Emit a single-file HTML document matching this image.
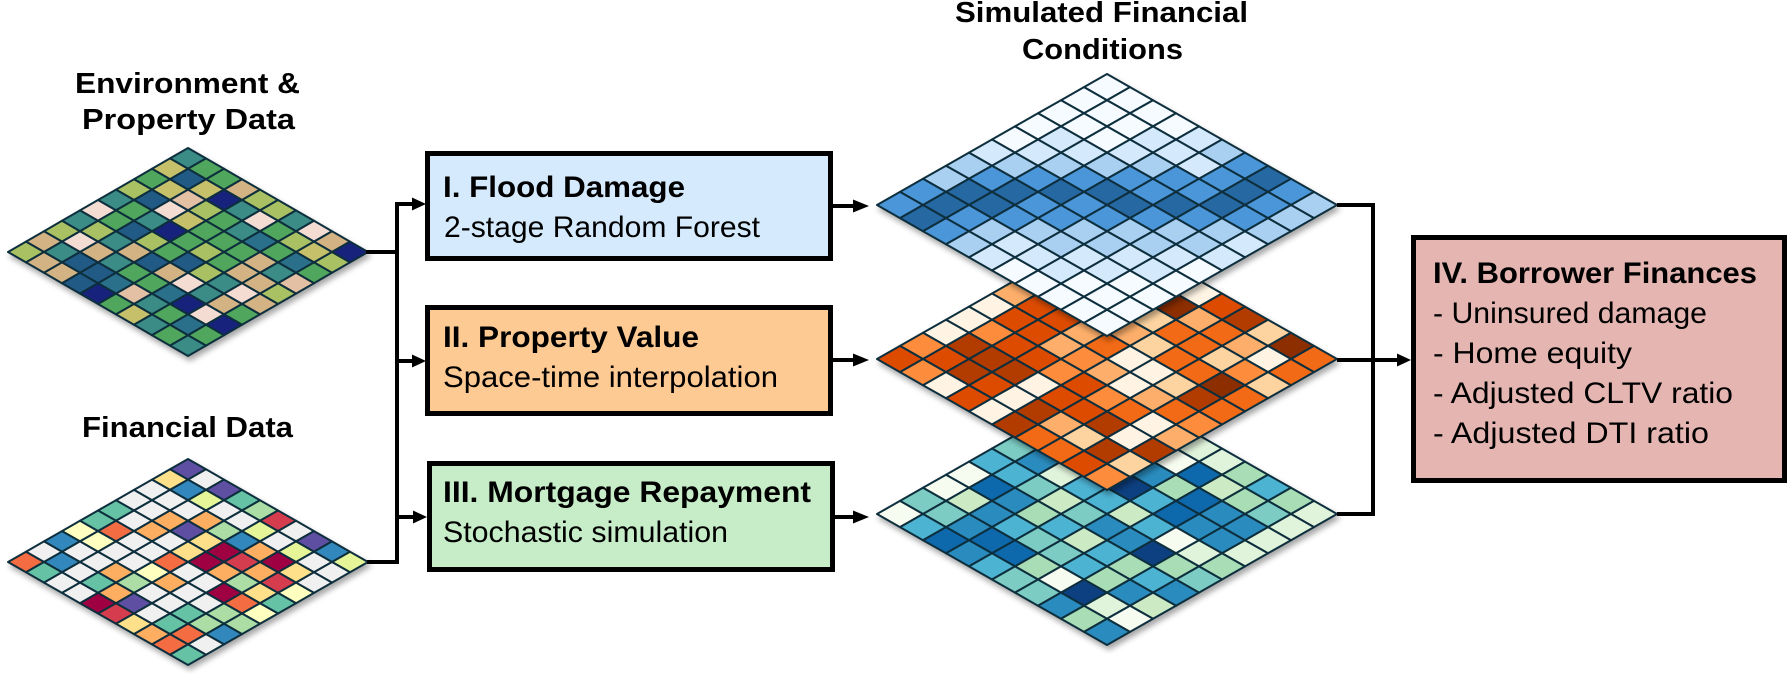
<!DOCTYPE html>
<html>
<head>
<meta charset="utf-8">
<style>
  html,body{margin:0;padding:0;background:#fff;overflow:hidden;}
  svg{display:block;}
  text{font-family:"Liberation Sans",Arial,sans-serif;fill:#000;}
  .b{font-weight:bold;}
</style>
</head>
<body>
<svg id="s" xmlns="http://www.w3.org/2000/svg" width="1787" height="674" viewBox="0 0 1787 674">
  <defs>
    <filter id="sh" x="-10%" y="-10%" width="120%" height="130%">
      <feDropShadow dx="2" dy="4" stdDeviation="3" flood-color="#000" flood-opacity="0.35"/>
    </filter>
  </defs>

  <!-- titles -->
  <text class="b" x="75" y="93" font-size="29" textLength="225" lengthAdjust="spacingAndGlyphs">Environment &amp;</text>
  <text class="b" x="82" y="129" font-size="29" textLength="213" lengthAdjust="spacingAndGlyphs">Property Data</text>
  <text class="b" x="82" y="437" font-size="29" textLength="211" lengthAdjust="spacingAndGlyphs">Financial Data</text>
  <text class="b" x="955" y="22" font-size="29" textLength="293" lengthAdjust="spacingAndGlyphs">Simulated Financial</text>
  <text class="b" x="1022" y="59" font-size="29" textLength="161" lengthAdjust="spacingAndGlyphs">Conditions</text>

  <!-- grids drawn here by script -->
  <g id="grids"></g>

  <!-- connectors -->
  <g stroke="#000" stroke-width="4" fill="none">
    <path d="M366 252 H399"/>
    <path d="M397 202 V564"/>
    <path d="M367 562 H399"/>
    <path d="M397 204 H414"/>
    <path d="M397 361 H414"/>
    <path d="M397 517 H414"/>
    <path d="M831 206 H855"/>
    <path d="M831 360 H855"/>
    <path d="M833 517 H855"/>
    <path d="M1337 205 H1375"/>
    <path d="M1373 203 V516"/>
    <path d="M1337 514 H1375"/>
    <path d="M1337 360 H1399"/>
  </g>
  <g fill="#000">
    <polygon points="412,197.5 426,204 412,210.5"/>
    <polygon points="412,354.5 426,361 412,367.5"/>
    <polygon points="413,510.5 427,517 413,523.5"/>
    <polygon points="853,199.5 869,206 853,212.5"/>
    <polygon points="853,353.5 869,360 853,366.5"/>
    <polygon points="853,510.5 869,517 853,523.5"/>
    <polygon points="1397,353.5 1411,360 1397,366.5"/>
  </g>

  <!-- boxes -->
  <rect x="427.5" y="153.5" width="403" height="105" fill="#d5eafc" stroke="#000" stroke-width="5"/>
  <rect x="427.5" y="307.5" width="403" height="106" fill="#fdca94" stroke="#000" stroke-width="5"/>
  <rect x="429.5" y="463.5" width="403" height="106" fill="#c6edc8" stroke="#000" stroke-width="5"/>
  <rect x="1413.5" y="237.5" width="371" height="243" fill="#e5b6b1" stroke="#000" stroke-width="5"/>

  <text class="b" x="443" y="197" font-size="30" textLength="242" lengthAdjust="spacingAndGlyphs">I. Flood Damage</text>
  <text x="444" y="237" font-size="30" textLength="316" lengthAdjust="spacingAndGlyphs">2-stage Random Forest</text>
  <text class="b" x="443" y="347" font-size="30" textLength="256" lengthAdjust="spacingAndGlyphs">II. Property Value</text>
  <text x="443" y="387" font-size="30" textLength="335" lengthAdjust="spacingAndGlyphs">Space-time interpolation</text>
  <text class="b" x="443" y="502" font-size="30" textLength="368" lengthAdjust="spacingAndGlyphs">III. Mortgage Repayment</text>
  <text x="443" y="542" font-size="30" textLength="285" lengthAdjust="spacingAndGlyphs">Stochastic simulation</text>

  <text class="b" x="1433" y="283" font-size="30" textLength="324" lengthAdjust="spacingAndGlyphs">IV. Borrower Finances</text>
  <text x="1433" y="323" font-size="30" textLength="274" lengthAdjust="spacingAndGlyphs">- Uninsured damage</text>
  <text x="1433" y="363" font-size="30" textLength="199" lengthAdjust="spacingAndGlyphs">- Home equity</text>
  <text x="1433" y="403" font-size="30" textLength="300" lengthAdjust="spacingAndGlyphs">- Adjusted CLTV ratio</text>
  <text x="1433" y="443" font-size="30" textLength="276" lengthAdjust="spacingAndGlyphs">- Adjusted DTI ratio</text>
</svg>

<script>
(function(){
  var NS="http://www.w3.org/2000/svg";
  var G=document.getElementById("grids");
  function grid(cx,cy,hw,hh,rows,pal){
    var g=document.createElementNS(NS,"g");
    g.setAttribute("filter","url(#sh)");
    g.setAttribute("stroke","#0f2f3d");
    g.setAttribute("stroke-width","2");
    g.setAttribute("stroke-linejoin","round");
    function P(r,c){return (cx+(c-r)*hw/10).toFixed(2)+","+(cy-hh+(r+c)*hh/10).toFixed(2);}
    for(var s=0;s<19;s++){
      var codes=rows[s].split(" ");
      for(var k=0;k<codes.length;k++){
        var c=(s<=9)?k:(s-9+k), r=s-c;
        var p=document.createElementNS(NS,"polygon");
        p.setAttribute("points",P(r,c)+" "+P(r,c+1)+" "+P(r+1,c+1)+" "+P(r+1,c));
        p.setAttribute("fill",pal[codes[k]]||"#ccc");
        g.appendChild(p);
      }
    }
    G.appendChild(g);
  }
  var envPal={T:"#3a8c86",Y:"#a9c163",O:"#c6c06b",G:"#4fa65b",B:"#215a86",N:"#15247c",K:"#d3b283",P:"#f4dcd3",Q:"#e3bfa3",L:"#2b6f8a"};
  var env=["T","O G","G B G","Y O O K","T B Q N Y","P G P Y T Y","T G T O G P T","Y Y B N G T G P","K P T Y G G L Y K","Y T K K G Y G G O N","K B T B B G K L Y","K B G K Y K T G","B L G P T K Q","N Q L T P Y","G T N K K","O G P G","T L N","G G","T"];
  var finPal={W:"#f0f0f0",U:"#5e4fa2",S:"#3288bd",A:"#66c2a5",L:"#abdda4",Z:"#e6f598",Y:"#fee08b",P:"#ffffbf",O:"#fdae61",R:"#f46d43",D:"#d53e4f",M:"#9e0142"};
  var fin=["U","Y W","W S U","W W Z A","A W W W L","A W O O W D","P R O U L Z W","S P W W Y S W U","W W W W Y M O Z S","R S W W R M D M W Z","A W O P W O O Y W","W A L O W L D W","W O W W M Y P","M U W W R A","D W A L P","Y A L L","O R S","R W","A"];
  var bluePal={"0":"#f5fbff","1":"#d4e9fb","2":"#a9cff1","3":"#4b96d9","4":"#2867a2"};
  var blue=["0","0 0","0 0 0","0 0 0 0","0 1 0 1 1","1 1 1 1 1 2","2 2 2 2 2 1 3","2 3 3 3 3 3 3 4","3 4 4 4 4 3 3 4 3","3 4 4 3 3 4 4 4 3 2","4 3 3 3 3 3 3 3 2","3 2 2 2 2 2 2 2","2 1 2 2 2 2 1","1 1 1 1 1 1","0 1 1 1 0","0 0 0 0","0 0 0","0 0","0"];
  var orPal={"0":"#fff4e4","1":"#fdd3a0","2":"#fdae6b","3":"#fd8d3c","4":"#f26a14","5":"#dc4c03","6":"#b23b04","7":"#8c2d04"};
  var orng=["1","2 3","3 4 2","2 4 5 0","2 5 4 3 0","0 5 4 3 7 5","0 5 5 4 1 2 6","0 3 5 2 2 4 4 1","3 6 5 2 4 1 4 2 7","5 5 6 5 3 0 4 1 0 4","3 6 6 3 2 0 4 3 4","0 5 0 5 0 1 7 1","5 0 5 3 2 6 4","0 6 5 4 4 4","6 2 6 0 3","4 1 0 2","4 6 6","5 1","3"];
  var tPal={"0":"#f7fcf0","1":"#e0f3db","2":"#ccebc5","3":"#a8ddb5","4":"#7bccc4","5":"#4eb3d3","6":"#2b8cbe","7":"#0868ac","8":"#084081"};
  var teal=["3","4 5","5 6 3","4 5 6 2","4 5 6 5 1","5 6 5 4 0 1","0 5 1 4 6 7 3","0 7 4 5 8 3 2 5","4 2 6 2 5 5 7 3 3","0 4 6 3 4 2 7 6 4 1","5 6 5 5 6 5 6 6 1","7 7 4 2 6 0 6 1","6 7 4 5 8 1 1","5 3 5 3 3 3","4 0 3 5 4","4 8 6 6","6 1 2","3 0","6"];
  grid(188,252,180,104,env,envPal);
  grid(188,562,180,103,fin,finPal);
  grid(1107,514,230,131,teal,tPal);
  grid(1107,359,230,131,orng,orPal);
  grid(1107,205,230,131,blue,bluePal);
})();
</script>
</body>
</html>
